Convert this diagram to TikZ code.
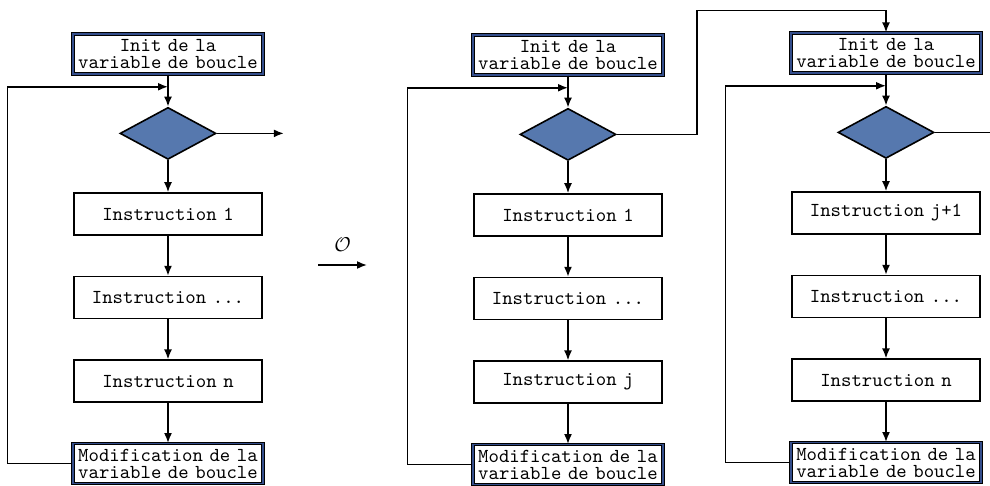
\documentclass[tikz,border=0pt]{standalone}
\usepackage{tikz}
\usetikzlibrary{
  shapes.geometric,
  arrows.meta,
  positioning, calc
}
\definecolor{testblue}{RGB}{86,120,174}
\definecolor{boxblue}{RGB}{52,78,140}
\newcommand{\boxfont}{\fontsize{9.9}{8.6}\selectfont\ttfamily}
\tikzset{
  initbox/.style={rectangle,draw=black,double=boxblue,double distance=0.6pt,line width=0.6pt,
    fill=white,text width=94pt,align=center,minimum height=20pt,inner sep=0.5pt,font=\boxfont},
  instbox/.style={rectangle,draw=black,line width=0.8pt,fill=white,
    text width=90pt,align=center,minimum height=21pt,inner sep=2pt,font=\boxfont},
  testnode/.style={diamond,draw=black,line width=0.8pt,fill=testblue,
    minimum width=48pt,minimum height=26pt,inner sep=0pt},
  arr/.style={-{Latex[length=5pt,width=4pt]},line width=0.8pt}
}

\begin{document}
\begin{tikzpicture}[x=0.5pt,y=-0.5pt,node distance=20pt]

  \useasboundingbox (0,0) rectangle (990,486);
  \clip (0,0) rectangle (990,486);

  % boucle de depart
  \node[initbox] (i1) at (168,54) {Init de la\\variable de boucle};
  \node[testnode,below=16pt of i1] (d1) {};
  \node[instbox,below=16pt of d1] (a1) {Instruction 1};
  \node[instbox,below=of a1] (b1) {Instruction ...};
  \node[instbox,below=of b1] (c1) {Instruction n};
  \node[initbox,below=of c1] (m1) {Modification de la\\variable de boucle};
  \coordinate (j1) at ($(i1.south)!0.38!(d1.north)$);

  \draw[arr] (i1)--(d1);
  \draw[arr] (d1)--(a1);
  \draw[arr] (a1)--(b1);
  \draw[arr] (b1)--(c1);
  \draw[arr] (c1)--(m1);
  \draw[arr] (d1.east)--++(67,0) coordinate (e1);
  \draw[arr] (m1.west)--++(-65,0)|-(j1);

  % transformation
  \coordinate (o1) at (318,265);
  \coordinate (o2) at (367,265);
  \draw[arr] (o1)--(o2) node[midway,above=3pt] (op) {$\mathcal{O}$};

  % premiere boucle
  \node[initbox] (i2) at (568,55) {Init de la\\variable de boucle};
  \node[testnode,below=16pt of i2] (d2) {};
  \node[instbox,below=16pt of d2] (a2) {Instruction 1};
  \node[instbox,below=of a2] (b2) {Instruction ...};
  \node[instbox,below=of b2] (c2) {Instruction j};
  \node[initbox,below=of c2] (m2) {Modification de la\\variable de boucle};
  \coordinate (j2) at ($(i2.south)!0.38!(d2.north)$);

  \draw[arr] (i2)--(d2);
  \draw[arr] (d2)--(a2);
  \draw[arr] (a2)--(b2);
  \draw[arr] (b2)--(c2);
  \draw[arr] (c2)--(m2);
  \draw[arr] (m2.west)--++(-65,0)|-(j2);

  % seconde boucle
  \node[initbox] (i3) at (886,53) {Init de la\\variable de boucle};
  \node[testnode,below=16pt of i3] (d3) {};
  \node[instbox,below=16pt of d3] (a3) {Instruction j+1};
  \node[instbox,below=of a3] (b3) {Instruction ...};
  \node[instbox,below=of b3] (c3) {Instruction n};
  \node[initbox,below=of c3] (m3) {Modification de la\\variable de boucle};
  \coordinate (j3) at ($(i3.south)!0.38!(d3.north)$);

  \draw[arr] (i3)--(d3);
  \draw[arr] (d3)--(a3);
  \draw[arr] (a3)--(b3);
  \draw[arr] (b3)--(c3);
  \draw[arr] (c3)--(m3);
  \draw[arr] (m3.west)--++(-65,0)|-(j3);
  \draw[line width=0.8pt] (d3.east)--++(80,0) coordinate (e3);

  % sortie de la premiere boucle
  \draw[arr] (d2.east)--++(80,0)--++(0,-124)-|(i3.north);

\end{tikzpicture}
\end{document}
